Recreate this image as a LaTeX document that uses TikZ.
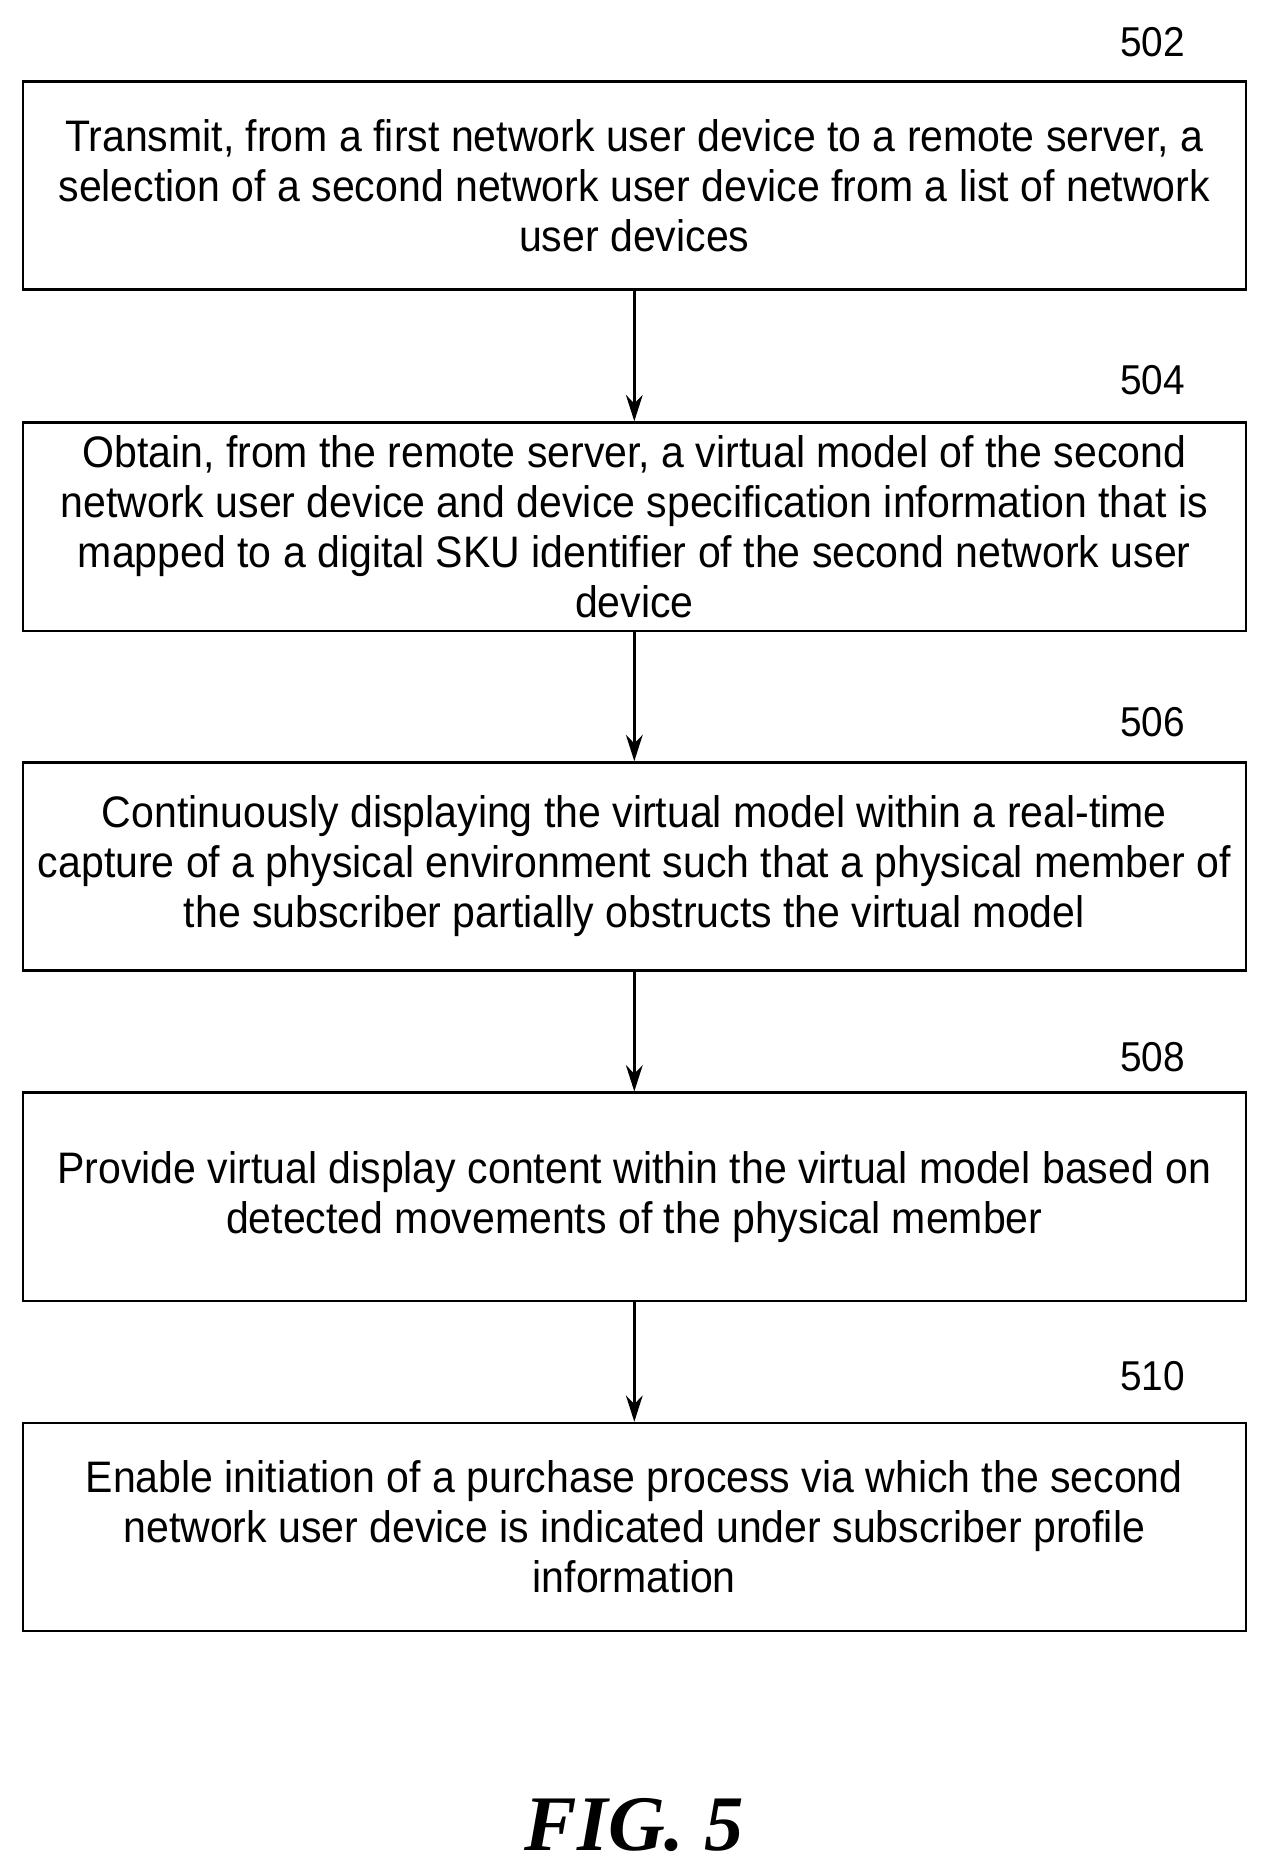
\documentclass[tikz,border=0pt]{standalone}
\usepackage{fontspec}
\setmainfont{Liberation Sans}[FakeStretch=0.93]
\newfontfamily\figfont{Liberation Serif}
\usetikzlibrary{arrows.meta}
\tikzset{
  stepbox/.style={draw,line width=2bp,minimum width=1022bp,minimum height=174bp,anchor=north west,inner sep=0pt,
    align=center,font=\fontsize{37}{42}\selectfont},
  lbl/.style={font=\fontsize{35}{42}\selectfont},
  arr/.style={line width=2bp,-{Stealth[length=22bp,width=14bp]}}
}
\begin{document}
\begin{tikzpicture}[x=1bp,y=-1bp]
\useasboundingbox (0,0) rectangle (1055,1560);
\node[stepbox] (b1) at (18,67) {Transmit, from a first network user device to a remote server, a\\ selection of a second network user device from a list of network\\ user devices};
\node[stepbox] (b2) at (18,352) {Obtain, from the remote server, a virtual model of the second\\ network user device and device specification information that is\\ mapped to a digital SKU identifier of the second network user\\ device};
\node[stepbox] (b3) at (18,636) {Continuously displaying the virtual model within a real-time\\ capture of a physical environment such that a physical member of\\ the subscriber partially obstructs the virtual model};
\node[stepbox] (b4) at (18,912) {Provide virtual display content within the virtual model based on\\ detected movements of the physical member};
\node[stepbox] (b5) at (18,1188) {Enable initiation of a purchase process via which the second\\ network user device is indicated under subscriber profile\\ information};
\node[lbl] (l1) at (963,35) {502};
\node[lbl] (l2) at (963,318) {504};
\node[lbl] (l3) at (963,603) {506};
\node[lbl] (l4) at (963,883) {508};
\node[lbl] (l5) at (963,1150) {510};
\draw[arr] (b1.south) -- (b2.north);
\draw[arr] (b2.south) -- (b3.north);
\draw[arr] (b3.south) -- (b4.north);
\draw[arr] (b4.south) -- (b5.north);
\node[font=\figfont\bfseries\itshape\fontsize{66}{70}\selectfont] (fig) at (530,1525) {FIG. 5};
\end{tikzpicture}
\end{document}
